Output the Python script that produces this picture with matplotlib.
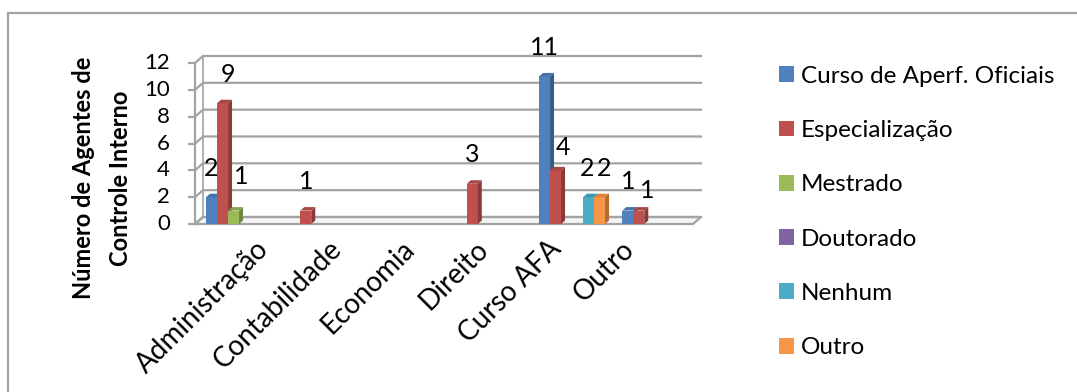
import matplotlib
matplotlib.use("Agg")
import matplotlib.pyplot as plt
import matplotlib.patches as patches
import matplotlib.colors as mcolors
import numpy as np

plt.rcParams['font.family'] = ['Lato', 'DejaVu Sans']

# --- dados ---
categories = ['Administração', 'Contabilidade', 'Economia', 'Direito', 'Curso AFA', 'Outro']
series_names = ['Curso de Aperf. Oficiais', 'Especialização', 'Mestrado',
                'Doutorado', 'Nenhum', 'Outro']
curso_aperf = [2, 0, 0, 0, 11, 1]
especializacao = [9, 1, 0, 3, 4, 1]
mestrado = [1, 0, 0, 0, 0, 0]
doutorado = [0, 0, 0, 0, 0, 0]
nenhum = [0, 0, 0, 0, 2, 0]
outro = [0, 0, 0, 0, 2, 0]
series_values = [curso_aperf, especializacao, mestrado, doutorado, nenhum, outro]
y_ticks = [0, 2, 4, 6, 8, 10, 12]

COLORS = ['#4F81BD', '#C0504D', '#9BBB59', '#8064A2', '#4BACC6', '#F79646']
GRID = '#a3a3a3'

# ajuste fino dos rótulos de valor (px): (categoria, série) -> (dx, dy)
LABEL_NUDGE = {(0, 1): (5, 0), (0, 2): (8, 5), (4, 1): (7, -6), (4, 4): (-1, 0),
               (4, 5): (5, 0), (5, 1): (8, -9)}


def shade(color, factor):
    r, g, b = mcolors.to_rgb(color)
    return (r * factor, g * factor, b * factor)


W, H = 1077, 392
fig = plt.figure(figsize=(W / 100, H / 100), dpi=100)
ax = fig.add_axes([195 / W, 168 / H, 498 / W, 161 / H])
ax.set_xlim(-0.529, 5.453)
ax.set_ylim(0, 12)
ax.axis('off')

# pixel -> unidades de dados
px_x = 1 / 83.25
px_y = 12 / 161.0
wall_dx, wall_dy = 8 * px_x, 7 * px_y
bar_dx, bar_dy = 4 * px_x, 3.5 * px_y
x0, x1 = ax.get_xlim()
PT = 72 / 100  # px -> pontos

# moldura externa
fig.patches.append(patches.Rectangle((8 / W, -0.1), 1.2, 1 - 13 / H + 0.1, transform=fig.transFigure,
                                     fill=False, edgecolor=GRID, lw=1.6))

# piso
floor = patches.Polygon([(x0, 0), (x1, 0), (x1 + wall_dx, wall_dy), (x0 + wall_dx, wall_dy)],
                        closed=True, facecolor='#f4f4f4', edgecolor=GRID, lw=1.6,
                        clip_on=False, zorder=1)
ax.add_patch(floor)

# paredes e linhas de grade
for y in y_ticks:
    ax.plot([x0, x0 + wall_dx, x1 + wall_dx], [y, y + wall_dy, y + wall_dy],
            color=GRID, lw=1.6, clip_on=False, zorder=1)
    ax.plot([x0 - 6 * px_x, x0], [y, y], color=GRID, lw=1.6, clip_on=False, zorder=1)
    ax.text(x0 - 25 * px_x, y, str(y), ha='right', va='center', fontsize=16, color='black')
ax.plot([x0, x0], [0, 12], color=GRID, lw=1.6, clip_on=False, zorder=1)
ax.plot([x0 + wall_dx] * 2, [wall_dy, 12 + wall_dy], color=GRID, lw=1.2, clip_on=False, zorder=1)

# colunas 3D
n = len(series_values)
bw = 11 * px_x
x = np.arange(len(categories))
z = 3
for i in x:
    for j, vals in enumerate(series_values):
        v = vals[i]
        if v == 0:
            continue
        left = i - n / 2 * bw + j * bw
        c = COLORS[j]
        ax.bar(left, v, width=bw, align='edge', color=c, edgecolor='none', zorder=z)
        side = patches.Polygon([(left + bw, 0), (left + bw, v), (left + bw + bar_dx, v + bar_dy),
                                (left + bw + bar_dx, bar_dy)], closed=True,
                               facecolor=shade(c, 0.72), edgecolor='none', zorder=z)
        top = patches.Polygon([(left, v), (left + bw, v), (left + bw + bar_dx, v + bar_dy),
                               (left + bar_dx, v + bar_dy)], closed=True,
                              facecolor=shade(c, 0.88), edgecolor='none', zorder=z)
        ax.add_patch(side)
        ax.add_patch(top)
        ndx, ndy = LABEL_NUDGE.get((i, j), (0, 0))
        ax.annotate(str(v), (left + bw / 2, v), xytext=(ndx * PT, (29 + ndy) * PT),
                    textcoords='offset points', ha='center', va='center', fontsize=18,
                    zorder=10, annotation_clip=False)
        z += 1

# rótulos das categorias (perspectiva comprime o eixo)
mid = (len(categories) - 1) / 2
for i, cat in enumerate(categories):
    ax.annotate(cat, (mid + (i - mid) * 0.88, 0), xytext=(0, -15), textcoords='offset points',
                ha='right', va='center', rotation=45, rotation_mode='anchor', fontsize=20,
                annotation_clip=False)

fig.text(102 / W, 1 - 178 / H, 'Número de Agentes de\nControle Interno', rotation=90,
         ha='center', va='center', multialignment='center', fontsize=17,
         fontweight='bold', linespacing=1.7)

handles = [patches.Patch(facecolor=c, edgecolor='none') for c in COLORS]
fig.legend(handles, series_names, loc='upper left', bbox_to_anchor=(769 / W, 1 - 56 / H),
           frameon=False, fontsize=17.5, handlelength=0.62, handleheight=0.62,
           handletextpad=0.3, labelspacing=1.37, borderaxespad=0)

fig.savefig('out.png', dpi=100, facecolor='white')
